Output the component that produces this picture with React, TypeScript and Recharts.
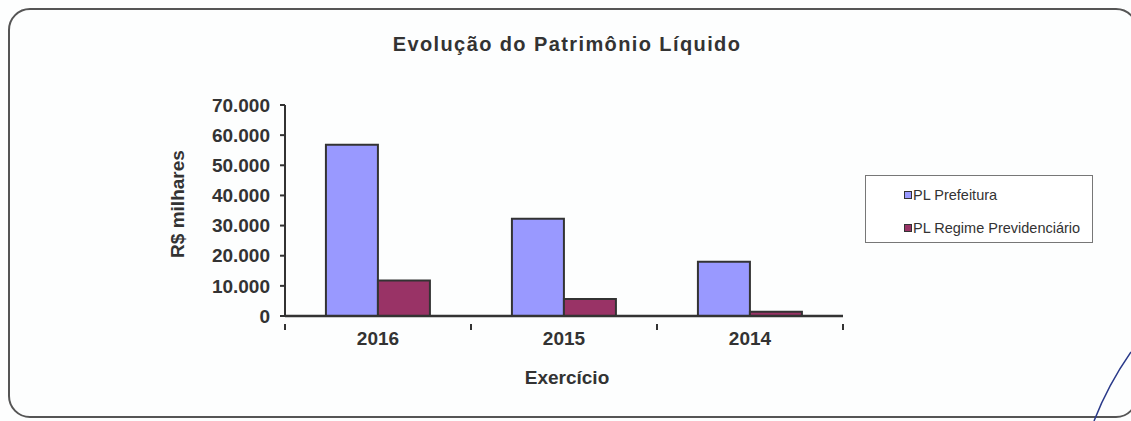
import React from 'react';
import { BarChart, Bar, XAxis, YAxis } from 'recharts';

const exercicios = ['2016', '2015', '2014'];
const plPrefeitura = [56800, 32300, 18000];
const plRegime = [11800, 5600, 1400];
const yTicks = [0, 10000, 20000, 30000, 40000, 50000, 60000, 70000];

const data = exercicios.map((ano, i) => ({
  ano,
  prefeitura: plPrefeitura[i],
  regime: plRegime[i],
}));

const W = 1131;
const H = 421;
const PLOT_LEFT = 285;
const PLOT_RIGHT = 843;
const TEXT = '#333333';
const FONT = '"Liberation Sans", Arial, sans-serif';

const fmt = (v: number) => String(v).replace(/\B(?=(\d{3})+(?!\d))/g, '.');

const halfBand = (PLOT_RIGHT - PLOT_LEFT) / exercicios.length / 2;

const XTick = (props: any) => {
  const { x, y, payload, index } = props;
  return (
    <g>
      {index === 0 && <line x1={x - halfBand} y1={y} x2={x - halfBand} y2={y + 6} stroke={TEXT} strokeWidth={2} />}
      <line x1={x + halfBand} y1={y} x2={x + halfBand} y2={y + 6} stroke={TEXT} strokeWidth={2} />
      <text x={x} y={y + 21} textAnchor="middle" fontSize={19} fontWeight="bold" fill={TEXT} fontFamily={FONT}>
        {payload.value}
      </text>
    </g>
  );
};

const legendItems = [
  { name: 'PL Prefeitura', color: '#9999ff' },
  { name: 'PL Regime Previdenciário', color: '#993366' },
];

export default function App() {
  return (
    <div style={{ position: 'absolute', left: 0, top: 0, width: W, height: H, background: '#fdfefe' }}>
      <div
        style={{
          position: 'absolute',
          left: 8,
          top: 8,
          width: 1130,
          height: 410,
          border: '2px solid #555',
          borderRadius: 22,
          boxSizing: 'border-box',
        }}
      />
      <div
        style={{
          position: 'absolute',
          left: 0,
          top: 33,
          width: 1134,
          textAlign: 'center',
          fontFamily: FONT,
          fontWeight: 'bold',
          fontSize: 20,
          letterSpacing: 1.4,
          color: TEXT,
        }}
      >
        Evolução do Patrimônio Líquido
      </div>
      <div
        style={{
          position: 'absolute',
          left: 0,
          top: 367,
          width: 1134,
          textAlign: 'center',
          fontFamily: FONT,
          fontWeight: 'bold',
          fontSize: 19,
          color: TEXT,
        }}
      >
        Exercício
      </div>
      <div
        style={{
          position: 'absolute',
          left: 865,
          top: 175,
          border: '1px solid #777',
          width: 228,
          height: 68,
          boxSizing: 'border-box',
          padding: '8px 0 0 38px',
          fontFamily: FONT,
          fontSize: 14.5,
          color: TEXT,
          background: '#fff',
        }}
      >
        {legendItems.map((it, i) => (
          <div key={it.name} style={{ display: 'flex', alignItems: 'center', height: 18, marginTop: i === 0 ? 2 : 15 }}>
            <span
              style={{
                display: 'inline-block',
                width: 6,
                height: 6,
                background: it.color,
                border: '1px solid #333',
                marginRight: 1,
              }}
            />
            {it.name}
          </div>
        ))}
      </div>
      <svg style={{ position: 'absolute', left: 0, top: 0 }} width={W} height={H}>
        <path d="M1131 352 Q1108 385 1094 421" stroke="#2a3a8a" strokeWidth={1.5} fill="none" />
        <text
          x={184}
          y={204}
          transform="rotate(-90 184 204)"
          textAnchor="middle"
          fontSize={19}
          fontWeight="bold"
          fill={TEXT}
          fontFamily={FONT}
        >
          R$ milhares
        </text>
      </svg>
      <div style={{ position: 'absolute', left: 0, top: 0 }}>
        <BarChart
          width={W}
          height={H}
          data={data}
          barCategoryGap="22%"
          barGap={0}
          margin={{ top: 105, right: W - PLOT_RIGHT, bottom: 105 - 40, left: PLOT_LEFT - 100 }}
        >
          <YAxis
            width={100}
            domain={[0, 70000]}
            ticks={yTicks}
            tickFormatter={fmt}
            axisLine={{ stroke: TEXT, strokeWidth: 2 }}
            tickLine={{ stroke: TEXT, strokeWidth: 2 }}
            tickSize={5}
            tickMargin={10}
            tick={{ fontSize: 19, fontWeight: 'bold', fill: TEXT, fontFamily: FONT }}
          />
          <XAxis
            dataKey="ano"
            axisLine={{ stroke: TEXT, strokeWidth: 2.5 }}
            tickLine={false}
            tick={<XTick />}
            height={40}
          />
          <Bar dataKey="prefeitura" name="PL Prefeitura" fill="#9999ff" stroke="#333" strokeWidth={2} isAnimationActive={false} />
          <Bar dataKey="regime" name="PL Regime Previdenciário" fill="#993366" stroke="#333" strokeWidth={2} isAnimationActive={false} />
        </BarChart>
      </div>
    </div>
  );
}
